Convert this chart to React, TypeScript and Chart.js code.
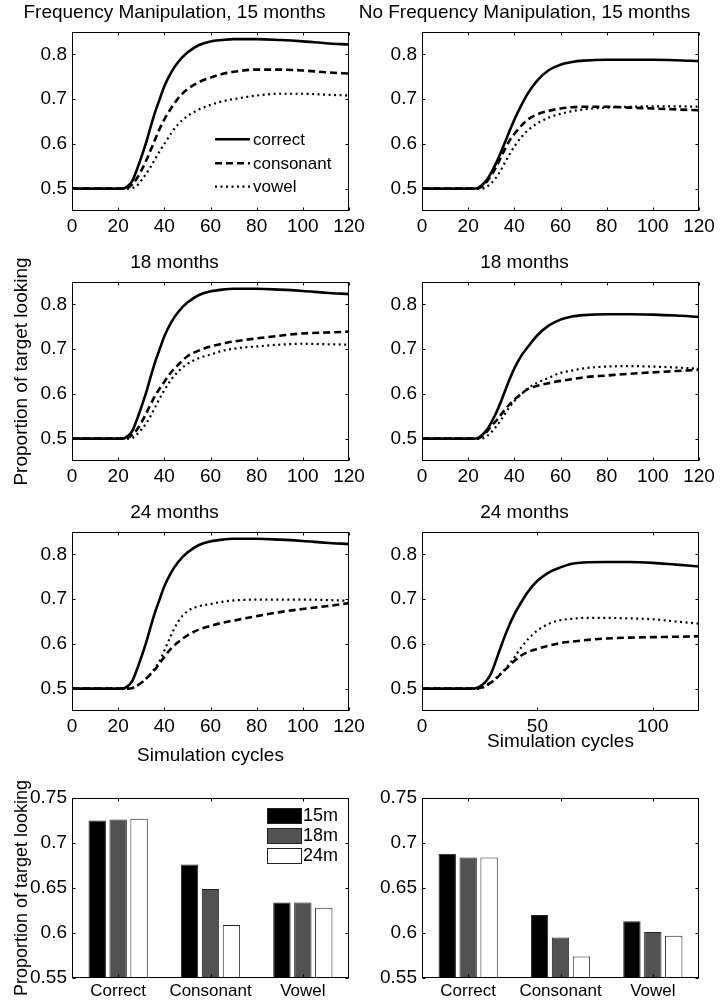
import React, { useEffect, useRef } from "react";
import { Chart, registerables } from "chart.js";
Chart.register(...registerables);

// ---------------- data ----------------
const CYCLES = [0, 10, 20, 22, 24, 26, 28, 30, 32, 34, 36, 38, 40, 43, 46, 50, 55, 60, 65, 70, 80, 90, 100, 110, 120];
const SERIES_LABELS = ["correct", "consonant", "vowel"];

const FM15_CORRECT = [0.5, 0.5, 0.5, 0.5, 0.505, 0.516, 0.541, 0.570, 0.601, 0.637, 0.671, 0.700, 0.729, 0.760, 0.783, 0.804, 0.821, 0.829, 0.832, 0.834, 0.834, 0.832, 0.829, 0.825, 0.822];
const FM15_CONSONANT = [0.5, 0.5, 0.5, 0.5, 0.501, 0.509, 0.522, 0.540, 0.561, 0.585, 0.610, 0.634, 0.655, 0.680, 0.702, 0.722, 0.738, 0.748, 0.756, 0.761, 0.766, 0.766, 0.764, 0.760, 0.757];
const FM15_VOWEL = [0.5, 0.5, 0.5, 0.5, 0.5, 0.501, 0.506, 0.518, 0.532, 0.548, 0.566, 0.584, 0.600, 0.624, 0.644, 0.662, 0.677, 0.687, 0.695, 0.700, 0.708, 0.712, 0.712, 0.710, 0.708];

const NFM15_CORRECT = [0.5, 0.5, 0.5, 0.5, 0.501, 0.508, 0.519, 0.536, 0.556, 0.579, 0.604, 0.630, 0.654, 0.686, 0.714, 0.742, 0.765, 0.777, 0.783, 0.786, 0.788, 0.788, 0.788, 0.787, 0.785];
const NFM15_CONSONANT = [0.5, 0.5, 0.5, 0.5, 0.5, 0.505, 0.515, 0.530, 0.547, 0.568, 0.589, 0.608, 0.622, 0.640, 0.655, 0.666, 0.674, 0.679, 0.682, 0.683, 0.683, 0.681, 0.679, 0.677, 0.675];
const NFM15_VOWEL = [0.5, 0.5, 0.5, 0.5, 0.5, 0.5, 0.504, 0.512, 0.524, 0.540, 0.559, 0.577, 0.594, 0.615, 0.631, 0.646, 0.659, 0.667, 0.673, 0.677, 0.681, 0.683, 0.684, 0.684, 0.683];

const FM18_CORRECT = [0.5, 0.5, 0.5, 0.5, 0.505, 0.516, 0.541, 0.570, 0.601, 0.637, 0.671, 0.700, 0.729, 0.760, 0.783, 0.804, 0.821, 0.829, 0.833, 0.835, 0.835, 0.833, 0.830, 0.826, 0.823];
const FM18_CONSONANT = [0.5, 0.5, 0.5, 0.5, 0.501, 0.508, 0.519, 0.535, 0.555, 0.576, 0.596, 0.612, 0.627, 0.649, 0.665, 0.684, 0.697, 0.706, 0.712, 0.717, 0.724, 0.730, 0.735, 0.737, 0.739];
const FM18_VOWEL = [0.5, 0.5, 0.5, 0.5, 0.5, 0.501, 0.509, 0.520, 0.533, 0.550, 0.570, 0.590, 0.608, 0.632, 0.650, 0.667, 0.680, 0.688, 0.696, 0.701, 0.706, 0.710, 0.712, 0.711, 0.710];

const NFM18_CORRECT = [0.5, 0.5, 0.5, 0.5, 0.501, 0.508, 0.519, 0.536, 0.556, 0.580, 0.607, 0.633, 0.657, 0.685, 0.706, 0.731, 0.753, 0.766, 0.773, 0.776, 0.778, 0.778, 0.777, 0.775, 0.772];
const NFM18_CONSONANT = [0.5, 0.5, 0.5, 0.5, 0.5, 0.505, 0.515, 0.528, 0.539, 0.552, 0.565, 0.577, 0.587, 0.600, 0.611, 0.618, 0.624, 0.629, 0.633, 0.637, 0.641, 0.645, 0.648, 0.651, 0.654];
const NFM18_VOWEL = [0.5, 0.5, 0.5, 0.5, 0.5, 0.5, 0.505, 0.514, 0.526, 0.540, 0.556, 0.571, 0.584, 0.599, 0.613, 0.625, 0.636, 0.647, 0.652, 0.657, 0.661, 0.662, 0.661, 0.659, 0.656];

const FM24_CORRECT = [0.5, 0.5, 0.5, 0.5, 0.505, 0.516, 0.541, 0.570, 0.601, 0.637, 0.671, 0.700, 0.729, 0.760, 0.783, 0.804, 0.821, 0.829, 0.833, 0.835, 0.835, 0.833, 0.830, 0.826, 0.823];
const FM24_CONSONANT = [0.5, 0.5, 0.5, 0.5, 0.5, 0.501, 0.506, 0.513, 0.522, 0.532, 0.543, 0.557, 0.571, 0.590, 0.604, 0.619, 0.632, 0.640, 0.647, 0.652, 0.662, 0.671, 0.678, 0.684, 0.691];
const FM24_VOWEL = [0.5, 0.5, 0.5, 0.5, 0.5, 0.501, 0.506, 0.513, 0.522, 0.533, 0.546, 0.562, 0.585, 0.620, 0.650, 0.673, 0.684, 0.689, 0.694, 0.697, 0.699, 0.699, 0.699, 0.698, 0.696];

const NFM24_CORRECT = [0.5, 0.5, 0.5, 0.5, 0.502, 0.508, 0.518, 0.535, 0.562, 0.591, 0.619, 0.644, 0.666, 0.693, 0.717, 0.741, 0.760, 0.771, 0.779, 0.782, 0.783, 0.783, 0.781, 0.777, 0.773];
const NFM24_CONSONANT = [0.5, 0.5, 0.5, 0.5, 0.5, 0.503, 0.508, 0.514, 0.522, 0.532, 0.542, 0.552, 0.562, 0.574, 0.582, 0.589, 0.596, 0.602, 0.605, 0.608, 0.612, 0.614, 0.615, 0.616, 0.617];
const NFM24_VOWEL = [0.5, 0.5, 0.5, 0.5, 0.5, 0.501, 0.507, 0.514, 0.523, 0.533, 0.544, 0.556, 0.570, 0.592, 0.611, 0.630, 0.645, 0.653, 0.656, 0.658, 0.658, 0.657, 0.655, 0.650, 0.645];

const LINE_Y_TICKS = [0.5, 0.6, 0.7, 0.8];
const X_TICKS_20 = [0, 20, 40, 60, 80, 100, 120];
const X_TICKS_50 = [0, 50, 100];

const BAR_CATEGORIES = ["Correct", "Consonant", "Vowel"];
const BAR_AGES = ["15m", "18m", "24m"];
const FM_BAR_15M = [0.725, 0.676, 0.634];
const FM_BAR_18M = [0.726, 0.649, 0.634];
const FM_BAR_24M = [0.727, 0.609, 0.628];
const NFM_BAR_15M = [0.688, 0.620, 0.613];
const NFM_BAR_18M = [0.684, 0.595, 0.601];
const NFM_BAR_24M = [0.684, 0.574, 0.597];
const BAR_Y_TICKS = [0.55, 0.6, 0.65, 0.7, 0.75];

const TITLE_FM15 = "Frequency Manipulation, 15 months";
const TITLE_NFM15 = "No Frequency Manipulation, 15 months";
const TITLE_18 = "18 months";
const TITLE_24 = "24 months";
const Y_TITLE = "Proportion of target looking";
const X_TITLE = "Simulation cycles";

// ---------------- styling / layout ----------------
const FONT = '"Liberation Sans", Arial, Helvetica, sans-serif';
Chart.defaults.font.family = FONT;
Chart.defaults.color = "#000";

const LINE_STYLES = [
  { borderWidth: 2.6, borderDash: [] as number[] },
  { borderWidth: 2.6, borderDash: [7, 4] },
  { borderWidth: 2.2, borderDash: [2, 3.5] },
];
const BAR_COLORS = ["#000000", "#525252", "#ffffff"];

const COL_X = [0, 350];
const COL_W = [380, 377];
const ROW_Y = [0, 250, 500, 766];
const ROW_PLOT_H = [179, 179, 179, 180];
const ROW_AXIS_H = [60, 60, 60, 25];
const Y_AXIS_W = 72;
const TOP_SPACE = 32;
const PLOT_RIGHT = [349, 699];

const framePlugin = {
  id: "matlabFrame",
  afterDraw(chart: any) {
    const { ctx, chartArea: a, scales } = chart;
    ctx.save();
    ctx.strokeStyle = "#000";
    ctx.lineWidth = 1;
    ctx.setLineDash([]);
    const L = Math.round(a.left) + 0.5, R = Math.round(a.right) - 0.5;
    const T = Math.round(a.top) + 0.5, B = Math.round(a.bottom) - 0.5;
    ctx.strokeRect(L, T, R - L, B - T);
    const tl = 3;
    ctx.beginPath();
    scales.x.ticks.forEach((_t: any, i: number) => {
      const px = Math.round(scales.x.getPixelForTick(i)) + 0.5;
      ctx.moveTo(px, B); ctx.lineTo(px, B - tl);
      ctx.moveTo(px, T); ctx.lineTo(px, T + tl);
    });
    scales.y.ticks.forEach((t: any) => {
      const py = Math.round(scales.y.getPixelForValue(t.value)) + 0.5;
      ctx.moveTo(L, py); ctx.lineTo(L + tl, py);
      ctx.moveTo(R, py); ctx.lineTo(R - tl, py);
    });
    ctx.stroke();
    ctx.restore();
  },
};

const insetLegendPlugin = {
  id: "insetLegend",
  afterDraw(chart: any, _args: any, opts: any) {
    if (!opts || !opts.kind) return;
    const { ctx, chartArea: a } = chart;
    ctx.save();
    ctx.font = `${opts.fontSize}px ${FONT}`;
    ctx.textBaseline = "middle";
    ctx.textAlign = "left";
    ctx.fillStyle = "#000";
    chart.data.datasets.forEach((ds: any, i: number) => {
      if (opts.kind === "line") {
        const y = a.bottom + opts.rows[i];
        ctx.setLineDash(ds.borderDash || []);
        ctx.lineWidth = ds.borderWidth;
        ctx.strokeStyle = ds.borderColor;
        ctx.beginPath();
        ctx.moveTo(a.right + opts.x0, y);
        ctx.lineTo(a.right + opts.x1, y);
        ctx.stroke();
        ctx.setLineDash([]);
        ctx.fillText(ds.label, a.right + opts.tx, y + 1);
      } else {
        const top = a.top + opts.rows[i];
        ctx.fillStyle = ds.backgroundColor;
        ctx.fillRect(a.right + opts.x0, top, opts.x1 - opts.x0, opts.boxH);
        ctx.strokeStyle = "#222";
        ctx.lineWidth = 1;
        ctx.setLineDash([]);
        ctx.strokeRect(Math.round(a.right + opts.x0) + 0.5, Math.round(top) + 0.5, opts.x1 - opts.x0, opts.boxH);
        ctx.fillStyle = "#000";
        ctx.fillText(ds.label, a.right + opts.tx, top + opts.boxH / 2 + 1);
      }
    });
    ctx.restore();
  },
};

type LineSpec = {
  col: number; row: number; title: string; series: number[][]; xTicks: number[];
  legend?: boolean; yTitle?: boolean; xTitle?: boolean; xTitlePad?: number;
};

const LINE_PANELS: LineSpec[] = [
  { col: 0, row: 0, title: TITLE_FM15, series: [FM15_CORRECT, FM15_CONSONANT, FM15_VOWEL], xTicks: X_TICKS_20, legend: true },
  { col: 1, row: 0, title: TITLE_NFM15, series: [NFM15_CORRECT, NFM15_CONSONANT, NFM15_VOWEL], xTicks: X_TICKS_20 },
  { col: 0, row: 1, title: TITLE_18, series: [FM18_CORRECT, FM18_CONSONANT, FM18_VOWEL], xTicks: X_TICKS_20, yTitle: true },
  { col: 1, row: 1, title: TITLE_18, series: [NFM18_CORRECT, NFM18_CONSONANT, NFM18_VOWEL], xTicks: X_TICKS_20 },
  { col: 0, row: 2, title: TITLE_24, series: [FM24_CORRECT, FM24_CONSONANT, FM24_VOWEL], xTicks: X_TICKS_20, xTitle: true, xTitlePad: 4 },
  { col: 1, row: 2, title: TITLE_24, series: [NFM24_CORRECT, NFM24_CONSONANT, NFM24_VOWEL], xTicks: X_TICKS_50, xTitle: true, xTitlePad: 18 },
];

type BarSpec = { col: number; values: number[][]; legend?: boolean; yTitle?: boolean };
const BAR_PANELS: BarSpec[] = [
  { col: 0, values: [FM_BAR_15M, FM_BAR_18M, FM_BAR_24M], legend: true, yTitle: true },
  { col: 1, values: [NFM_BAR_15M, NFM_BAR_18M, NFM_BAR_24M] },
];

function setTicks(list: number[]) {
  return (scale: any) => {
    scale.ticks = list.map((v) => ({ value: v }));
  };
}

const NO_GRID = { display: false, drawTicks: false, tickLength: 0 };

function buildLineConfig(p: LineSpec): any {
  const rightPad = COL_W[p.col] - (PLOT_RIGHT[p.col] - COL_X[p.col]);
  return {
    type: "line",
    data: {
      datasets: p.series.map((vals, i) => ({
        label: SERIES_LABELS[i],
        data: CYCLES.map((x, j) => ({ x, y: vals[j] })),
        borderColor: "#000",
        backgroundColor: "#000",
        borderWidth: LINE_STYLES[i].borderWidth,
        borderDash: LINE_STYLES[i].borderDash,
        pointRadius: 0,
        cubicInterpolationMode: "monotone",
        fill: false,
      })),
    },
    options: {
      animation: false,
      responsive: false,
      devicePixelRatio: 1,
      layout: { padding: { left: 0, right: rightPad, top: 0, bottom: 0 } },
      plugins: {
        legend: { display: false },
        tooltip: { enabled: false },
        title: {
          display: true,
          text: p.title,
          color: "#000",
          font: { size: 19, weight: "normal", family: FONT },
          padding: { top: 1, bottom: TOP_SPACE - 22.8 - 1 },
        },
        insetLegend: p.legend
          ? { kind: "line", fontSize: 17, rows: [-71.7, -47.7, -24.3], x0: -134, x1: -99, tx: -96 }
          : {},
      },
      scales: {
        x: {
          type: "linear",
          min: 0,
          max: 120,
          afterBuildTicks: setTicks(p.xTicks),
          afterFit: (s: any) => { s.height = ROW_AXIS_H[p.row]; },
          grid: NO_GRID,
          border: { display: false },
          ticks: { autoSkip: false, maxRotation: 0, padding: 4, color: "#000", font: { size: 19 }, callback: (v: any) => String(v) },
          title: p.xTitle
            ? { display: true, text: X_TITLE, color: "#000", font: { size: 19 }, padding: { top: 0, bottom: p.xTitlePad } }
            : { display: false },
        },
        y: {
          type: "linear",
          min: 0.45,
          max: 0.85,
          afterBuildTicks: setTicks(LINE_Y_TICKS),
          afterFit: (s: any) => { s.width = Y_AXIS_W; },
          grid: NO_GRID,
          border: { display: false },
          ticks: { autoSkip: false, padding: 5, color: "#000", font: { size: 19 }, callback: (v: any) => String(v) },
          title: p.yTitle
            ? { display: true, text: Y_TITLE, color: "#000", font: { size: 19 }, padding: { top: 10, bottom: 0 } }
            : { display: false },
        },
      },
    },
    plugins: [framePlugin, insetLegendPlugin],
  };
}

function buildBarConfig(p: BarSpec): any {
  const rightPad = COL_W[p.col] - (PLOT_RIGHT[p.col] - COL_X[p.col]);
  return {
    type: "bar",
    data: {
      labels: BAR_CATEGORIES,
      datasets: p.values.map((vals, i) => ({
        label: BAR_AGES[i],
        data: vals,
        backgroundColor: BAR_COLORS[i],
        borderColor: "#222",
        borderWidth: 1,
        categoryPercentage: 0.68,
        barPercentage: 0.83,
      })),
    },
    options: {
      animation: false,
      responsive: false,
      devicePixelRatio: 1,
      layout: { padding: { left: 0, right: rightPad, top: TOP_SPACE, bottom: 0 } },
      plugins: {
        legend: { display: false },
        tooltip: { enabled: false },
        title: { display: false },
        insetLegend: p.legend
          ? { kind: "bar", fontSize: 18, rows: [10, 30, 50], x0: -81.6, x1: -47.6, boxH: 15, tx: -46 }
          : {},
      },
      scales: {
        x: {
          type: "category",
          afterFit: (s: any) => { s.height = ROW_AXIS_H[3]; },
          grid: NO_GRID,
          border: { display: false },
          ticks: { autoSkip: false, maxRotation: 0, padding: 3, color: "#000", font: { size: 17 } },
        },
        y: {
          type: "linear",
          min: 0.55,
          max: 0.75,
          afterBuildTicks: setTicks(BAR_Y_TICKS),
          afterFit: (s: any) => { s.width = Y_AXIS_W; },
          grid: NO_GRID,
          border: { display: false },
          ticks: { autoSkip: false, padding: 5, color: "#000", font: { size: 19 }, callback: (v: any) => String(v) },
          title: p.yTitle
            ? { display: true, text: Y_TITLE, color: "#000", font: { size: 18 }, padding: { top: 11, bottom: 0 } }
            : { display: false },
        },
      },
    },
    plugins: [framePlugin, insetLegendPlugin],
  };
}

function ChartCanvas({ left, top, width, height, config }: { left: number; top: number; width: number; height: number; config: any }) {
  const ref = useRef<HTMLCanvasElement | null>(null);
  useEffect(() => {
    if (!ref.current) return;
    const chart = new Chart(ref.current, config);
    return () => chart.destroy();
  }, [config]);
  return (
    <canvas
      ref={ref}
      width={width}
      height={height}
      style={{ position: "absolute", left, top, width, height }}
    />
  );
}

const LINE_CONFIGS = LINE_PANELS.map(buildLineConfig);
const BAR_CONFIGS = BAR_PANELS.map(buildBarConfig);

export default function App() {
  return (
    <div style={{ position: "absolute", left: 0, top: 0, width: 727, height: 1003, overflow: "hidden", background: "#fff" }}>
      {LINE_PANELS.map((p, i) => (
        <ChartCanvas
          key={"l" + i}
          left={COL_X[p.col]}
          top={ROW_Y[p.row]}
          width={COL_W[p.col]}
          height={TOP_SPACE + ROW_PLOT_H[p.row] + ROW_AXIS_H[p.row]}
          config={LINE_CONFIGS[i]}
        />
      ))}
      {BAR_PANELS.map((p, i) => (
        <ChartCanvas
          key={"b" + i}
          left={COL_X[p.col]}
          top={ROW_Y[3]}
          width={COL_W[p.col]}
          height={TOP_SPACE + ROW_PLOT_H[3] + ROW_AXIS_H[3]}
          config={BAR_CONFIGS[i]}
        />
      ))}
    </div>
  );
}
